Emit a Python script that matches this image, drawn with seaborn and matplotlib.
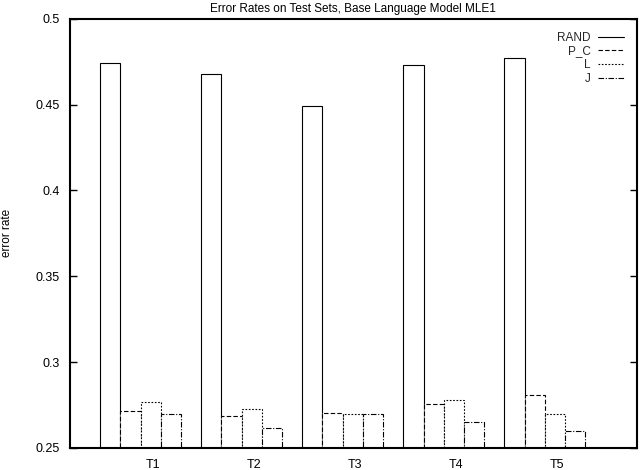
import numpy as np
import pandas as pd
import seaborn as sns
import matplotlib
matplotlib.use("Agg")
import matplotlib.pyplot as plt
from matplotlib.lines import Line2D

# values
tests = ["T1", "T2", "T3", "T4", "T5"]
models = ["RAND", "P_C", "L", "J"]
rand_rate = [0.474, 0.468, 0.449, 0.473, 0.477]
pc_rate = [0.2715, 0.2686, 0.2703, 0.2756, 0.2808]
l_rate = [0.2767, 0.2727, 0.2698, 0.2779, 0.2698]
j_rate = [0.2698, 0.2616, 0.2698, 0.2651, 0.2599]
yticks = [0.25, 0.3, 0.35, 0.4, 0.45, 0.5]
ytick_labels = ["0.25", "0.3", "0.35", "0.4", "0.45", "0.5"]

styles = {
    "RAND": "-",
    "P_C": (0, (4, 2)),
    "L": (0, (1.5, 1.5)),
    "J": (0, (5, 1.5, 1, 1.5)),
}

df = pd.DataFrame({
    "test": tests * 4,
    "model": [m for m in models for _ in tests],
    "rate": rand_rate + pc_rate + l_rate + j_rate,
})

sns.set_theme(style="white")
plt.rcParams["font.family"] = ["Liberation Sans", "DejaVu Sans"]

fig = plt.figure(figsize=(6.4, 4.7), dpi=100)
ax = fig.add_axes([0.109, 0.047, 0.886, 0.913])

sns.barplot(data=df, x="test", y="rate", hue="model", hue_order=models,
            palette={m: "white" for m in models}, saturation=1,
            edgecolor="black", linewidth=0.8, errorbar=None,
            width=0.8, ax=ax, legend=False)

for cont, m in zip(ax.containers, models):
    for p in cont:
        p.set_linestyle(styles[m])

ax.set_ylim(0.25, 0.5)
ax.set_xlim(-0.70, 4.91)
ax.set_yticks(yticks, ytick_labels)
ax.set_xticks(np.arange(len(tests)) + 0.12, tests)
ax.tick_params(axis="y", direction="in", length=5, width=1, labelsize=9,
               pad=7, right=True, left=True, colors="black")
ax.tick_params(axis="x", length=0, labelsize=9, pad=8, colors="black")
for s in ax.spines.values():
    s.set_color("black")
    s.set_linewidth(1.5)

ax.set_xlabel("")
ax.set_ylabel("error rate", fontsize=8.5, color="black")
ax.yaxis.set_label_coords(-0.1, 0.5)
ax.set_title("Error Rates on Test Sets, Base Language Model MLE1",
             fontsize=8.5, pad=5, color="black")

handles = [Line2D([0], [0], color="black", lw=0.8, linestyle=styles[m]) for m in models]
leg = ax.legend(handles, models, loc="upper right", frameon=False, markerfirst=False,
                fontsize=8.5, handlelength=2.2, handletextpad=0.6, labelspacing=0.15,
                borderaxespad=0.7)

fig.savefig("out.png", dpi=100)
